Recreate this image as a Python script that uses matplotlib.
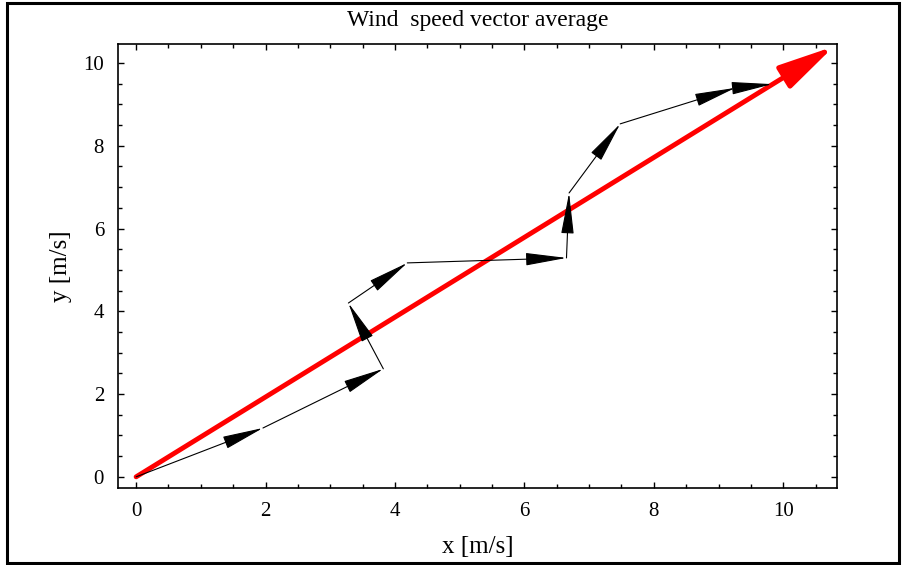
import matplotlib
matplotlib.use("Agg")
import matplotlib.pyplot as plt
from matplotlib.patches import Rectangle
from matplotlib.ticker import MultipleLocator

# Path of individual wind vectors (cumulative end points)
path_x = [0.0, 1.96, 3.82, 3.28, 4.19, 6.65, 6.69, 7.48, 9.26, 9.83]
path_y = [0.0, 1.18, 2.61, 4.20, 5.17, 5.29, 6.86, 8.53, 9.40, 9.49]
# Average vector
avg_x = 10.78
avg_y = 10.40

title = "Wind  speed vector average"
xlabel = "x [m/s]"
ylabel = "y [m/s]"
xticks = [0, 2, 4, 6, 8, 10]
yticks = [0, 2, 4, 6, 8, 10]

plt.rcParams['font.family'] = ['Liberation Serif', 'DejaVu Serif']

fig = plt.figure(figsize=(9.04, 5.65), dpi=100)
fig.patch.set_facecolor('white')
ax = fig.add_axes([118/904, 1-488/565, (837-118)/904, (488-44)/565])

ax.set_xlim(-0.28, 10.83)
ax.set_ylim(-0.27, 10.46)

for i in range(len(path_x) - 1):
    ax.annotate('', xy=(path_x[i+1], path_y[i+1]), xytext=(path_x[i], path_y[i]),
                arrowprops=dict(arrowstyle='-|>,head_length=2.6,head_width=0.4',
                                color='black', lw=0.8, shrinkA=0, shrinkB=0,
                                mutation_scale=10), zorder=4)

ax.annotate('', xy=(avg_x, avg_y), xytext=(0, 0),
            arrowprops=dict(arrowstyle='-|>,head_length=3.4,head_width=0.78',
                            color='#ff0000', lw=3.5, shrinkA=0, shrinkB=0,
                            mutation_scale=10), zorder=3)

ax.set_xticks(xticks)
ax.set_yticks(yticks)
ax.xaxis.set_minor_locator(MultipleLocator(0.5))
ax.yaxis.set_minor_locator(MultipleLocator(0.5))
ax.tick_params(which='both', direction='in', top=True, right=True, width=1.0,
               labelsize=15, colors='black')
ax.tick_params(which='major', length=4.5, pad=10)
ax.tick_params(which='minor', length=2.6)
for s in ax.spines.values():
    s.set_linewidth(1.2)

ax.set_title(title, fontsize=17, pad=13)
ax.set_xlabel(xlabel, fontsize=18, labelpad=11)
ax.set_ylabel(ylabel, fontsize=18, labelpad=8)

fig.patches.append(Rectangle((7/904, 1-563/565), (899-7)/904, (563-3)/565,
                             transform=fig.transFigure, fill=False,
                             edgecolor='black', linewidth=2.2, zorder=10))

fig.savefig('out.png', dpi=100, facecolor='white')
